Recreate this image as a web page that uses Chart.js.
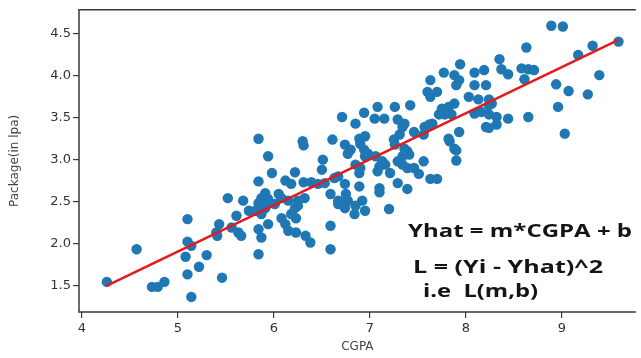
<!DOCTYPE html>
<html>
<head>
<meta charset="utf-8">
<script src="https://cdn.jsdelivr.net/npm/chart.js@4/dist/chart.umd.min.js"></script>
<style>
html, body { margin: 0; padding: 0; background: #fff; }
</style>
</head>
<body>
<canvas id="mycanvas" width="641" height="358"></canvas>
<script>
// values
var cgpa = [
    4.26,4.57,4.73,4.79,4.86,5.10,5.10,5.14,5.08,5.10, 5.14,5.22,5.30,5.46,5.43,5.40,5.41,5.56,5.63,5.66,
    5.52,5.84,5.87,5.94,5.84,6.08,6.12,6.15,6.18,6.22, 6.25,6.23,6.23,6.33,6.38,6.59,6.59,5.81,5.87,5.84,
    5.91,6.01,6.67,6.74,5.68,5.74,5.61,
    6.71,5.84,6.30,6.31,6.61,6.74,5.94,6.51,6.50,5.98, 6.22,5.84,6.12,6.18,6.31,6.39,6.46,6.53,6.63,6.67,
    6.74,5.91,5.87,5.94,5.91,6.05,6.08,6.15,6.25,6.32, 6.59,6.67,
    7.08,7.26,7.42,6.94,6.85,7.05,7.15,7.29,7.36,7.34, 7.75,7.82,7.88,7.78,7.85,7.72,7.65,7.57,7.62,7.46,
    7.56,8.09,8.16,8.24,8.21,7.93,7.82,7.83,7.88,7.90, 7.90,6.80,6.77,6.89,6.95,6.90,6.94,6.98,6.95,7.06,
    7.13,7.16,7.10,7.25,7.31,7.26,7.36,7.39,7.34,7.41, 7.29,7.34,7.39,6.85,6.90,6.89,7.08,7.21,7.46,7.51,
    7.56,7.63,7.70,6.89,7.10,7.10,7.29,7.39,6.75,6.77, 6.74,6.92,6.85,6.84,6.95,7.20,
    7.94,7.77,7.88,7.93,7.90,8.09,8.19,8.09,8.21,7.63, 7.60,7.70,7.63,8.03,8.13,8.24,8.89,9.01,8.63,8.35,
    8.37,8.44,8.58,8.65,8.71,8.61,8.27,8.24,8.94,9.07, 9.27,9.17,9.32,9.59,9.39,8.96,8.32,8.44,8.32,8.24,
    8.65,9.03
];
var packageLpa = [
    1.54,1.93,1.48,1.48,1.54,2.29,2.02,1.97,1.84,1.63, 1.36,1.72,1.86,1.59,2.23,2.13,2.09,2.19,2.13,2.09,
    2.54,2.17,2.07,2.23,1.87,2.30,2.23,2.15,2.35,2.42, 2.45,2.30,2.13,2.09,2.01,2.21,1.93,2.39,2.35,2.48,
    2.47,2.47,2.47,2.47,2.51,2.39,2.33,
    3.51,3.25,3.22,3.17,3.24,3.18,3.04,3.00,2.88,2.84, 2.85,2.74,2.75,2.71,2.73,2.73,2.71,2.72,2.78,2.80,
    2.71,2.60,2.54,2.53,2.42,2.59,2.54,2.51,2.51,2.54, 2.59,2.51,
    3.63,3.63,3.65,3.56,3.43,3.49,3.49,3.48,3.43,3.39, 3.61,3.63,3.67,3.54,3.54,3.54,3.43,3.39,3.42,3.33,
    3.30,3.55,3.57,3.54,3.39,3.33,3.25,3.22,3.13,3.11, 2.99,3.12,3.07,3.25,3.28,3.19,3.12,3.07,3.04,3.04,
    2.98,2.94,2.92,3.24,3.30,3.18,3.13,3.10,3.04,3.06, 2.98,2.94,2.90,2.94,2.90,2.84,2.86,2.84,2.90,2.83,
    2.98,2.77,2.77,2.68,2.66,2.61,2.72,2.65,2.59,2.51, 2.42,2.51,2.45,2.35,2.39,2.41,
    4.14,4.04,4.01,3.95,3.89,4.04,4.07,3.89,3.89,3.95, 3.81,3.81,3.75,3.75,3.72,3.65,4.60,4.59,4.34,4.20,
    4.08,4.02,4.09,4.08,4.07,3.96,3.67,3.72,3.90,3.82, 3.78,4.25,4.36,4.41,4.01,3.63,3.51,3.49,3.42,3.38,
    3.51,3.31
];
// regression line end points
var fitCgpa = [4.25, 9.59];
var fitLpa = [1.49, 4.43];

var xTicks = [4, 5, 6, 7, 8, 9];
var yTicks = [1.5, 2.0, 2.5, 3.0, 3.5, 4.0, 4.5];
var noteLines = ['Yhat = m*CGPA + b', 'L = (Yi - Yhat)^2', 'i.e  L(m,b)'];

var points = [];
for (var i in cgpa) {
    points.push({x: cgpa[i], y: packageLpa[i]});
}
var fitLine = [];
for (var j in fitCgpa) {
    fitLine.push({x: fitCgpa[j], y: fitLpa[j]});
}

var framePlugin = {
    id: 'frame',
    beforeDatasetsDraw: function (chart) {
        var a = chart.chartArea, ctx = chart.ctx;
        ctx.save();
        ctx.strokeStyle = '#3a3a3a';
        ctx.lineWidth = 1.5;
        ctx.beginPath();
        ctx.moveTo(a.right, a.top);
        ctx.lineTo(a.left, a.top);
        ctx.lineTo(a.left, a.bottom);
        ctx.lineTo(a.right, a.bottom);
        ctx.stroke();
        ctx.restore();
    }
};

var notePlugin = {
    id: 'note',
    afterDatasetsDraw: function (chart) {
        var ctx = chart.ctx;
        // left, right, middle y for each line
        var place = [[408, 632, 232], [413, 603, 268], [423, 538, 292]];
        ctx.save();
        ctx.fillStyle = '#141414';
        ctx.font = 'bold 17px "Open Sans"';
        ctx.textBaseline = 'middle';
        for (var k = 0; k < noteLines.length; k++) {
            var w = ctx.measureText(noteLines[k]).width;
            var s = (place[k][1] - place[k][0]) / w;
            ctx.save();
            ctx.translate(place[k][0], place[k][2]);
            ctx.scale(s, 1);
            ctx.fillText(noteLines[k], 0, 0);
            ctx.restore();
        }
        ctx.restore();
    }
};

var ctx = document.getElementById('mycanvas');
var myChart = new Chart(ctx, {
    type: 'scatter',
    data: {
        datasets: [
            {
                label: 'fit',
                data: fitLine,
                showLine: true,
                borderColor: '#e41a1c',
                borderWidth: 2.5,
                pointRadius: 0,
                order: 0
            },
            {
                label: 'students',
                data: points,
                backgroundColor: '#1f77b4',
                borderWidth: 0,
                pointRadius: 5.2,
                order: 1
            }
        ]
    },
    options: {
        responsive: false,
        animation: false,
        events: [],
        layout: { padding: { top: 7, right: 0, left: 0, bottom: 0 } },
        plugins: { legend: { display: false }, tooltip: { enabled: false } },
        scales: {
            x: {
                type: 'linear',
                min: 3.97,
                max: 9.77,
                afterBuildTicks: function (s) {
                    s.ticks = xTicks.map(function (v) { return {value: v}; });
                },
                afterFit: function (s) { s.height = 46; },
                grid: { drawOnChartArea: false, color: '#3a3a3a', tickLength: 6, lineWidth: 1.2 },
                border: { display: false },
                ticks: {
                    color: '#333',
                    padding: 3,
                    font: { family: 'DejaVu Sans', size: 13 },
                    maxRotation: 0,
                    callback: function (v) { return String(v); }
                },
                title: {
                    display: true,
                    text: 'CGPA',
                    color: '#444',
                    font: { family: 'DejaVu Sans', size: 12 },
                    padding: { top: 0, bottom: 4 }
                }
            },
            y: {
                type: 'linear',
                min: 1.18,
                max: 4.79,
                afterBuildTicks: function (s) {
                    s.ticks = yTicks.map(function (v) { return {value: v}; });
                },
                afterFit: function (s) { s.width = 79; },
                grid: { drawOnChartArea: false, color: '#3a3a3a', tickLength: 6, lineWidth: 1.2 },
                border: { display: false },
                ticks: {
                    color: '#333',
                    padding: 2,
                    font: { family: 'DejaVu Sans', size: 13 },
                    callback: function (v) { return v.toFixed(1); }
                },
                title: {
                    display: true,
                    text: 'Package(in lpa)',
                    color: '#444',
                    font: { family: 'DejaVu Sans', size: 12 },
                    padding: { top: 8, bottom: 0 }
                }
            }
        }
    },
    plugins: [framePlugin, notePlugin]
});
</script>
</body>
</html>
